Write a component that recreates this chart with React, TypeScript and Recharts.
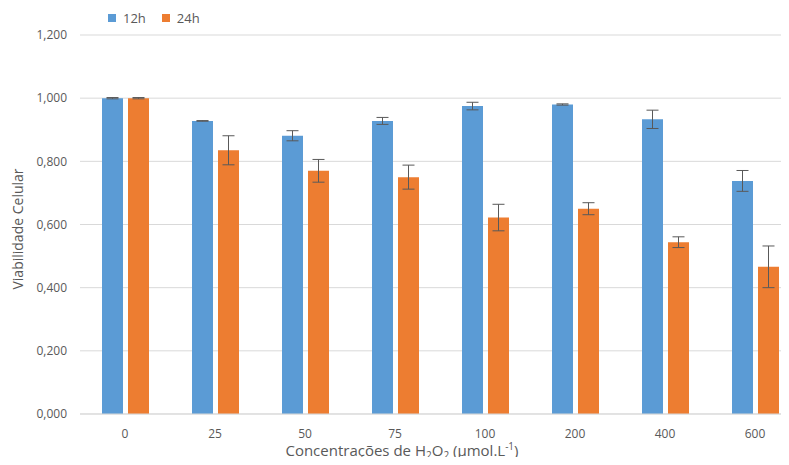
import React from 'react';
import { BarChart, Bar, XAxis, YAxis, CartesianGrid, ErrorBar } from 'recharts';

const categories = ['0', '25', '50', '75', '100', '200', '400', '600'];
const viab12h = [1.0, 0.928, 0.881, 0.928, 0.975, 0.98, 0.933, 0.738];
const viab24h = [1.0, 0.835, 0.77, 0.75, 0.622, 0.65, 0.544, 0.466];
const err12h = [0.002, 0.001, 0.016, 0.011, 0.012, 0.002, 0.029, 0.033];
const err24h = [0.002, 0.046, 0.036, 0.038, 0.042, 0.019, 0.017, 0.066];
const yTicks = [0, 0.2, 0.4, 0.6, 0.8, 1.0, 1.2];

const data = categories.map((c, i) => ({
    conc: c,
    h12: viab12h[i],
    h24: viab24h[i],
    e12: err12h[i],
    e24: err24h[i],
}));

const BLUE = '#5B9BD5';
const ORANGE = '#ED7D31';
const TEXT = '#595959';
const FONT = '"Open Sans", "Liberation Sans", sans-serif';

const fmt = (v: number) => v.toFixed(3).replace('.', ',');

const LegendBox = () => (
    <div
        style={{
            position: 'absolute',
            top: 9,
            left: 108,
            display: 'flex',
            gap: 16,
            fontFamily: FONT,
            fontSize: 13,
            color: TEXT,
        }}
    >
        {[['12h', BLUE], ['24h', ORANGE]].map(([name, color]) => (
            <div key={name} style={{ display: 'flex', alignItems: 'center', gap: 7 }}>
                <span style={{ width: 8, height: 8, background: color, display: 'inline-block' }} />
                <span>{name}</span>
            </div>
        ))}
    </div>
);

// x title with sub/superscripts, placed like the original
const XTitle = () => (
    <text x={402} y={456} textAnchor="middle" fill={TEXT} fontSize={15} fontFamily={FONT}>
        Concentrações de H
        <tspan fontSize={10} dy={3}>2</tspan>
        <tspan dy={-3}>O</tspan>
        <tspan fontSize={10} dy={3}>2</tspan>
        <tspan dy={-3}> (µmol.L</tspan>
        <tspan fontSize={10} dy={-6}>-1</tspan>
        <tspan dy={6}>)</tspan>
    </text>
);

const YTitle = () => (
    <text
        x={0}
        y={0}
        transform="translate(23, 229) rotate(-90)"
        textAnchor="middle"
        fill={TEXT}
        fontSize={14}
        fontFamily={FONT}
    >
        Viabilidade Celular
    </text>
);

const App: React.FC = () => {
    return (
        <div style={{ position: 'relative', margin: -8, width: 789, height: 465, overflow: 'hidden', background: '#fff' }}>
            <BarChart
                width={800}
                height={465}
                data={data}
                margin={{ top: 35, right: 0, bottom: 0, left: 0 }}
                barCategoryGap={22}
                barGap={5}
            >
                <CartesianGrid vertical={false} stroke="#d9d9d9" />
                <XAxis
                    dataKey="conc"
                    height={51}
                    tickLine={false}
                    axisLine={{ stroke: '#d9d9d9' }}
                    tick={{ fill: TEXT, fontSize: 12, fontFamily: FONT }}
                    tickMargin={9}
                    label={<XTitle />}
                />
                <YAxis
                    width={80}
                    domain={[0, 1.2]}
                    ticks={yTicks}
                    tickFormatter={fmt}
                    axisLine={false}
                    tickLine={false}
                    tick={{ fill: TEXT, fontSize: 12, fontFamily: FONT }}
                    tickMargin={7}
                    label={<YTitle />}
                />
                <Bar dataKey="h12" name="12h" fill={BLUE} isAnimationActive={false}>
                    <ErrorBar dataKey="e12" width={6} stroke={TEXT} strokeWidth={1} isAnimationActive={false} />
                </Bar>
                <Bar dataKey="h24" name="24h" fill={ORANGE} isAnimationActive={false}>
                    <ErrorBar dataKey="e24" width={6} stroke={TEXT} strokeWidth={1} isAnimationActive={false} />
                </Bar>
            </BarChart>
            <LegendBox />
        </div>
    );
};

export default App;
